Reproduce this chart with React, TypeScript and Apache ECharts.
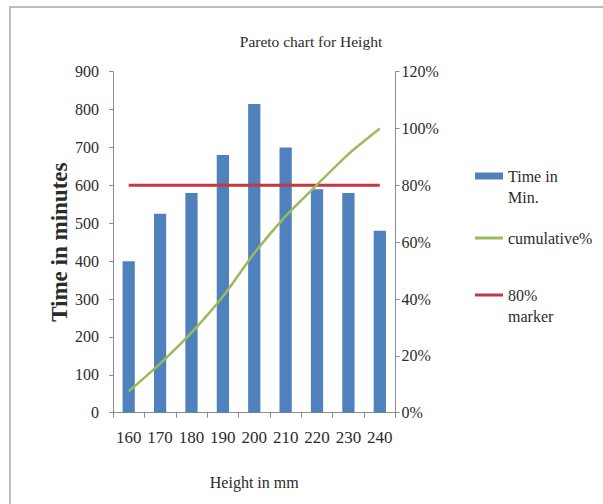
import React, { useEffect, useRef } from "react";
import * as echarts from "echarts";

const categories = ["160", "170", "180", "190", "200", "210", "220", "230", "240"];
const timeInMin = [400, 525, 580, 680, 815, 700, 590, 580, 480];
const cumulativePct = [7.5, 17.3, 28.2, 40.9, 56.1, 69.2, 80.2, 91.0, 100];
const markerPct = [80, 80, 80, 80, 80, 80, 80, 80, 80];
const leftTicks = { min: 0, max: 900, interval: 100 };
const rightTicks = { min: 0, max: 120, interval: 20 };

const FONT = "Liberation Serif";
const TXT = "#2b2b2b";
const AXIS = "#8c8c8c";

export default function App() {
  const ref = useRef<HTMLDivElement>(null);
  useEffect(() => {
    if (!ref.current) return;
    const chart = echarts.init(ref.current, null, { renderer: "svg" });
    chart.setOption({
      animation: false,
      backgroundColor: "#ffffff",
      textStyle: { fontFamily: FONT, color: TXT },
      title: {
        text: "Pareto chart for Height",
        left: 311,
        textAlign: "center",
        top: 33,
        padding: 0,
        textStyle: { fontFamily: FONT, fontSize: 15.5, fontWeight: "normal", color: TXT },
      },
      graphic: [
        {
          type: "rect",
          shape: { x: 10, y: 7, width: 640, height: 540 },
          style: { fill: "none", stroke: "#a6a6a6", lineWidth: 1.5 },
          silent: true,
        },
      ],
      legend: [
        {
          data: ["Time in Min."],
          left: 475,
          top: 144.5,
          padding: 0,
          icon: "rect",
          itemWidth: 28,
          itemHeight: 7,
          formatter: () => " \nTime in\nMin.",
          textStyle: { fontFamily: FONT, fontSize: 16, color: TXT, lineHeight: 21 },
        },
        {
          data: ["cumulative%"],
          left: 475,
          top: 227.5,
          padding: 0,
          icon: "rect",
          itemWidth: 28,
          itemHeight: 3,
          textStyle: { fontFamily: FONT, fontSize: 16, color: TXT, lineHeight: 21 },
        },
        {
          data: ["80% marker"],
          left: 475,
          top: 263.5,
          padding: 0,
          icon: "rect",
          itemWidth: 28,
          itemHeight: 3,
          formatter: () => " \n80%\nmarker",
          textStyle: { fontFamily: FONT, fontSize: 16, color: TXT, lineHeight: 21 },
        },
      ],
      grid: { left: 113, right: 207.5, top: 71.7, bottom: 91.3, containLabel: false },
      xAxis: {
        type: "category",
        data: categories,
        boundaryGap: true,
        name: "Height in mm",
        nameLocation: "middle",
        nameGap: 62,
        nameTextStyle: { fontFamily: FONT, fontSize: 16, color: TXT },
        axisLine: { lineStyle: { color: AXIS, width: 1 } },
        axisTick: { show: true, alignWithLabel: false, length: 5, lineStyle: { color: AXIS } },
        axisLabel: { interval: 0, fontFamily: FONT, fontSize: 17, color: TXT, margin: 16 },
        splitLine: { show: false },
      },
      yAxis: [
        {
          type: "value",
          min: leftTicks.min,
          max: leftTicks.max,
          interval: leftTicks.interval,
          name: "Time in minutes",
          nameLocation: "middle",
          nameGap: 40,
          nameTextStyle: { fontFamily: FONT, fontSize: 23, fontWeight: "bold", color: TXT },
          axisLine: { show: true, lineStyle: { color: AXIS, width: 1 } },
          axisTick: { show: true, length: 4, lineStyle: { color: AXIS } },
          axisLabel: { fontFamily: FONT, fontSize: 16, color: TXT, margin: 14 },
          splitLine: { show: false },
        },
        {
          type: "value",
          min: rightTicks.min,
          max: rightTicks.max,
          interval: rightTicks.interval,
          position: "right",
          axisLine: { show: true, lineStyle: { color: AXIS, width: 1 } },
          axisTick: { show: true, length: 4, lineStyle: { color: AXIS } },
          axisLabel: { fontFamily: FONT, fontSize: 16, color: TXT, margin: 6, formatter: "{value}%" },
          splitLine: { show: false },
        },
      ],
      series: [
        {
          name: "Time in Min.",
          type: "bar",
          data: timeInMin,
          barWidth: "39%",
          itemStyle: { color: "#4f81bd" },
          yAxisIndex: 0,
        },
        {
          name: "cumulative%",
          type: "line",
          data: cumulativePct,
          yAxisIndex: 1,
          symbol: "none",
          smooth: 0.2,
          lineStyle: { color: "#9bbb59", width: 2.5 },
          itemStyle: { color: "#9bbb59" },
          z: 4,
        },
        {
          name: "80% marker",
          type: "line",
          data: markerPct,
          yAxisIndex: 1,
          symbol: "none",
          lineStyle: { color: "#c8373e", width: 3 },
          itemStyle: { color: "#c8373e" },
          z: 3,
        },
      ],
    });
    return () => chart.dispose();
  }, []);
  return (
    <div
      ref={ref}
      style={{ position: "fixed", left: 0, top: 0, width: 603, height: 504 }}
    />
  );
}
